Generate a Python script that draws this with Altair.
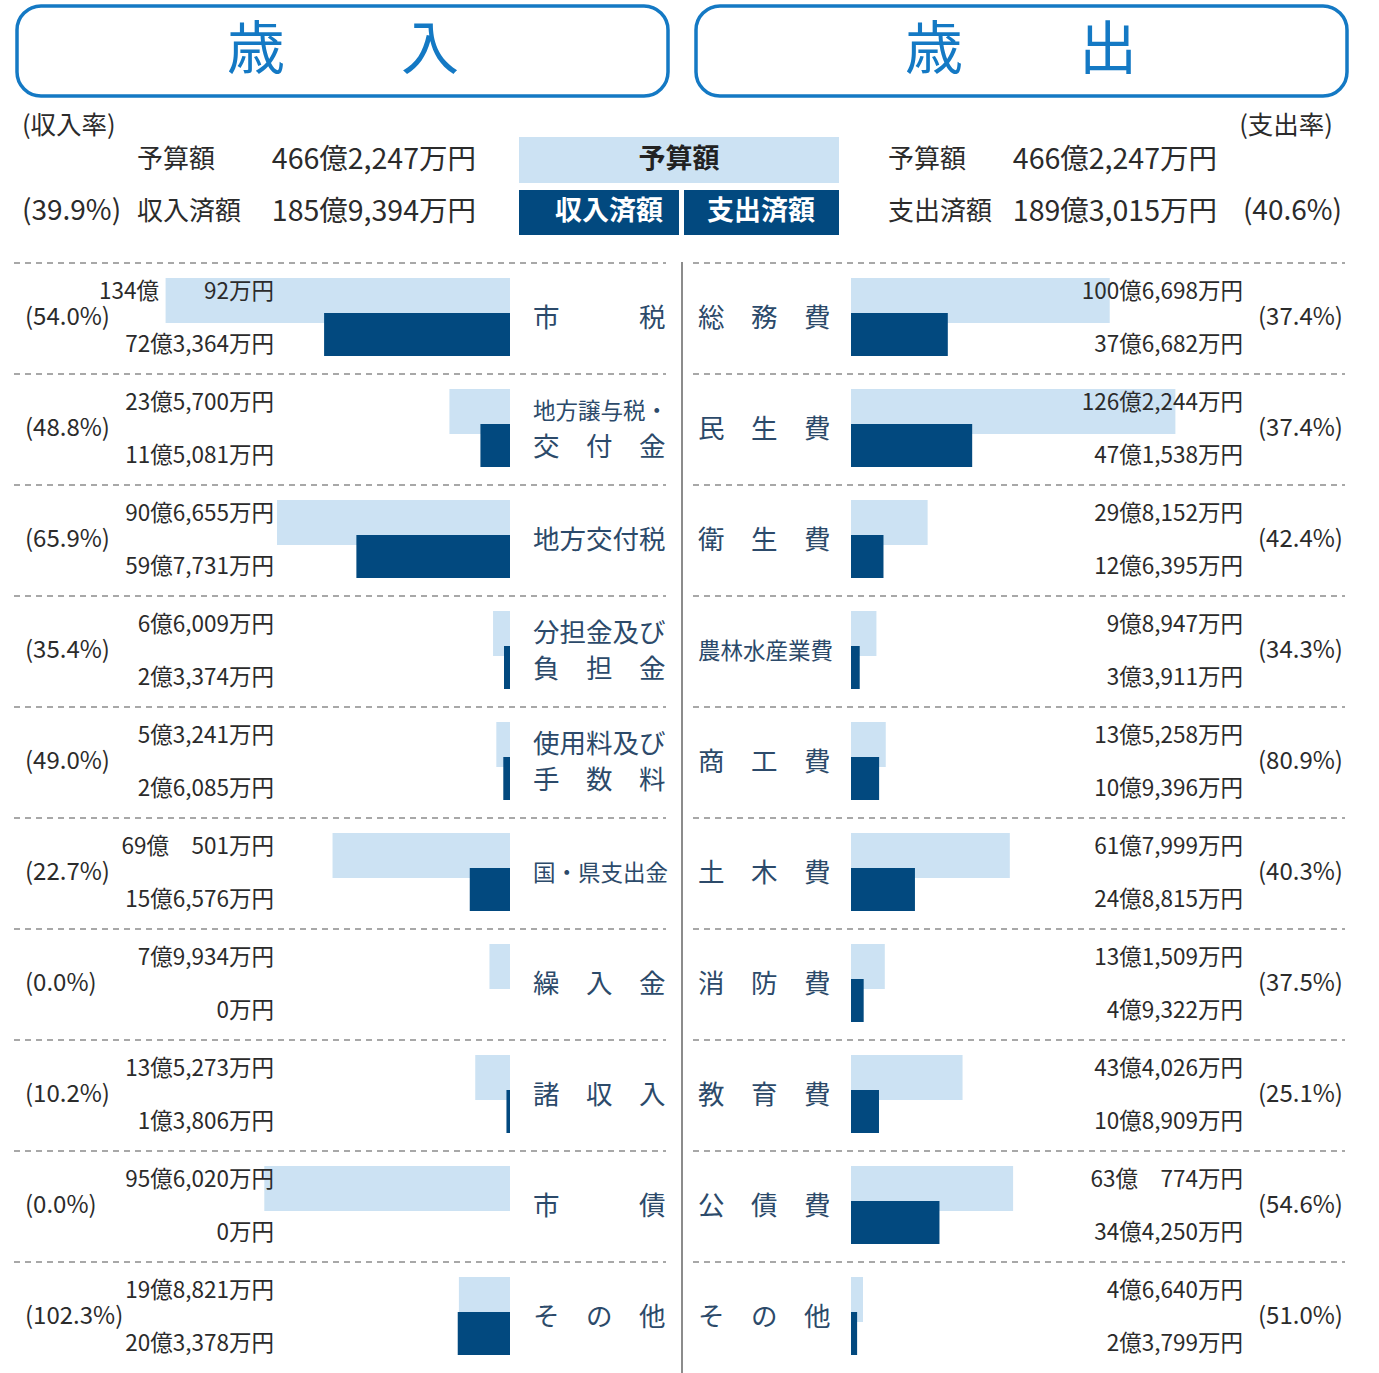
import altair as alt
import pandas as pd

FONT = "Noto Sans CJK JP"
INK = "#2b2b2b"
CAT_INK = "#2c4a6a"
LIGHT = "#cce2f3"
DARK = "#02497f"
BLUE = "#1479c4"
GRID = "#8c8c8c"

# ---------------- data (amounts in 万円) ----------------
rev_cats = ["市　　　税", "地方譲与税・\n交　付　金", "地方交付税", "分担金及び\n負　担　金",
            "使用料及び\n手　数　料", "国・県支出金", "繰　入　金", "諸　収　入", "市　　　債", "そ　の　他"]
rev_budget = [1340092, 235700, 906655, 66009, 53241, 690501, 79934, 135273, 956020, 198821]
rev_actual = [723364, 115081, 597731, 23374, 26085, 156576, 0, 13806, 0, 203378]
rev_rate = [54.0, 48.8, 65.9, 35.4, 49.0, 22.7, 0.0, 10.2, 0.0, 102.3]

exp_cats = ["総　務　費", "民　生　費", "衛　生　費", "農林水産業費", "商　工　費",
            "土　木　費", "消　防　費", "教　育　費", "公　債　費", "そ　の　他"]
exp_budget = [1006698, 1262244, 298152, 98947, 135258, 617999, 131509, 434026, 630774, 46640]
exp_actual = [376682, 471538, 126395, 33911, 109396, 248815, 49322, 108909, 344250, 23799]
exp_rate = [37.4, 37.4, 42.4, 34.3, 80.9, 40.3, 37.5, 25.1, 54.6, 51.0]

total_budget = 4662247
rev_total_actual = 1859394
exp_total_actual = 1893015
rev_total_rate = 39.9
exp_total_rate = 40.6


def fmt(v):
    oku, man = divmod(v, 10000)
    if oku == 0:
        return f"{man:,}万円"
    if man >= 1000:
        return f"{oku}億{man:,}万円"
    pad = "\u3000" * (2 if man < 100 else 1)
    return f"{oku}億{pad}{man}万円"


def fit_size(s):
    return 26.5 if len(s) <= 5 else 22.5


def table(cats, budget, actual, rate):
    df = pd.DataFrame({"row": list(range(len(cats))), "cat": cats,
                       "budget": budget, "actual": actual, "rate": rate})
    df["blabel"] = df["budget"].map(fmt)
    df["alabel"] = df["actual"].map(fmt)
    df["rlabel"] = df["rate"].map(lambda r: f"({r:.1f}%)")
    df["line1"] = df["cat"].map(lambda s: s.split("\n")[0])
    df["line2"] = df["cat"].map(lambda s: s.split("\n")[1] if "\n" in s else "")
    df["fs1"] = df["line1"].map(fit_size)
    df["fs2"] = df["line2"].map(fit_size)
    return df


rev = table(rev_cats, rev_budget, rev_actual, rev_rate)
exp = table(exp_cats, exp_budget, exp_actual, exp_rate)

PX_PER_MAN = 2.57 / 10000.0  # pixels per 万円
BODY_H = 1110
HEAD_H = 263


def ycat():
    return alt.Y("row:O", axis=None, scale=alt.Scale(paddingInner=0, paddingOuter=0))


def panel(df, width, base, reverse, label_x, val_x, rate_x, rule_x, rule_x2, extra=None):
    if reverse:
        domain = [-(width - base) / PX_PER_MAN, base / PX_PER_MAN]
    else:
        domain = [-base / PX_PER_MAN, (width - base) / PX_PER_MAN]
    xs = alt.Scale(domain=domain, reverse=reverse, nice=False, zero=False)
    b = alt.Chart(df)
    seps = b.mark_rule(strokeDash=[6, 5], strokeWidth=1.5, color=GRID).encode(
        y=alt.Y("row:O", axis=None, bandPosition=0, scale=alt.Scale(paddingInner=0, paddingOuter=0)),
        x=alt.value(rule_x), x2=alt.value(rule_x2))
    light = b.mark_bar(color=LIGHT, height=45, yOffset=-18).encode(
        y=ycat(), x=alt.X("budget:Q", scale=xs, axis=None), x2=alt.datum(0))
    dark = b.mark_bar(color=DARK, height=43, yOffset=16).encode(
        y=ycat(), x=alt.X("actual:Q", scale=xs, axis=None), x2=alt.datum(0))
    btxt = b.mark_text(align="right", baseline="middle", dy=-27, fontSize=22.5, font=FONT, color=INK).encode(
        y=ycat(), x=alt.value(val_x), text="blabel:N")
    atxt = b.mark_text(align="right", baseline="middle", dy=26, fontSize=22.5, font=FONT, color=INK).encode(
        y=ycat(), x=alt.value(val_x), text="alabel:N")
    rtxt = b.mark_text(align="left", baseline="middle", dy=-1, fontSize=24, font=FONT, color=INK).encode(
        y=ycat(), x=alt.value(rate_x), text="rlabel:N")
    single = b.transform_filter("datum.line2 == ''").mark_text(
        align="left", baseline="middle", font=FONT, color=CAT_INK).encode(
        y=ycat(), x=alt.value(label_x), text="line1:N", size=alt.Size("fs1:Q", scale=None))
    top = b.transform_filter("datum.line2 != ''").mark_text(
        align="left", baseline="middle", dy=-18, font=FONT, color=CAT_INK).encode(
        y=ycat(), x=alt.value(label_x), text="line1:N", size=alt.Size("fs1:Q", scale=None))
    bot = b.transform_filter("datum.line2 != ''").mark_text(
        align="left", baseline="middle", dy=18, font=FONT, color=CAT_INK).encode(
        y=ycat(), x=alt.value(label_x), text="line2:N", size=alt.Size("fs2:Q", scale=None))
    layers = [seps, light, dark, btxt, atxt, rtxt, single, top, bot]
    if extra is not None:
        layers.append(extra)
    return alt.layer(*layers).properties(width=width, height=BODY_H)


left = panel(rev, 682, 510, True, 533, 274, 25, 14, 666)
vline = alt.Chart(pd.DataFrame({"a": [0]})).mark_rule(color=GRID, strokeWidth=2).encode(
    x=alt.value(0), y=alt.value(-1), y2=alt.value(BODY_H))
right = panel(exp, 697, 169, False, 16, 561, 576, 11, 663, extra=vline)

# ---------------- header ----------------
hdf = pd.DataFrame({"a": [0]})


def txt(s, x, y, size=26, align="left", color=INK, weight="normal"):
    return alt.Chart(hdf).mark_text(text=s, align=align, baseline="middle", fontSize=size, font=FONT,
                                    color=color, fontWeight=weight).encode(x=alt.value(x), y=alt.value(y))


def box(x1, x2, y1, y2, fill, stroke=None, sw=0, r=0):
    kw = dict(fill=fill, cornerRadius=r)
    if stroke:
        kw.update(stroke=stroke, strokeWidth=sw)
    return alt.Chart(hdf).mark_rect(**kw).encode(
        x=alt.value(x1), x2=alt.value(x2), y=alt.value(y1), y2=alt.value(y2))


head_layers = [
    box(17, 668, 6, 96, "white", BLUE, 3.5, 24),
    box(696, 1347, 6, 96, "white", BLUE, 3.5, 24),
    txt("歳\u3000\u3000入", 343, 52, 58, "center", BLUE, "normal"),
    txt("歳\u3000\u3000出", 1021, 52, 58, "center", BLUE, "normal"),
    txt("(収入率)", 22, 126, 25.5),
    txt("予算額", 137, 160),
    txt(fmt(total_budget), 476, 160, 28.5, "right"),
    txt(f"({rev_total_rate:.1f}%)", 22, 212, 28),
    txt("収入済額", 137, 212),
    txt(fmt(rev_total_actual), 476, 212, 28.5, "right"),
    box(519, 839, 137, 183, LIGHT),
    box(519, 679, 190, 235, DARK),
    box(684, 839, 190, 235, DARK),
    txt("予算額", 679, 160, 27, "center", "#222222", "bold"),
    txt("収入済額", 609, 212, 27, "center", "white", "bold"),
    txt("支出済額", 761, 212, 27, "center", "white", "bold"),
    txt("(支出率)", 1333, 126, 25.5, "right"),
    txt("予算額", 888, 160),
    txt(fmt(total_budget), 1217, 160, 28.5, "right"),
    txt("支出済額", 888, 212),
    txt(fmt(exp_total_actual), 1217, 212, 28.5, "right"),
    txt(f"({exp_total_rate:.1f}%)", 1342, 212, 28, "right"),
]
header = alt.layer(*head_layers).properties(width=1379, height=HEAD_H)

body = alt.hconcat(left, right, spacing=0, bounds="flush")
chart = alt.vconcat(header, body, spacing=0, bounds="flush").properties(
    padding=0, background="white"
).configure_view(stroke=None).configure_concat(spacing=0)

chart.save("out.html", embed_options={"renderer": "svg", "actions": False})
